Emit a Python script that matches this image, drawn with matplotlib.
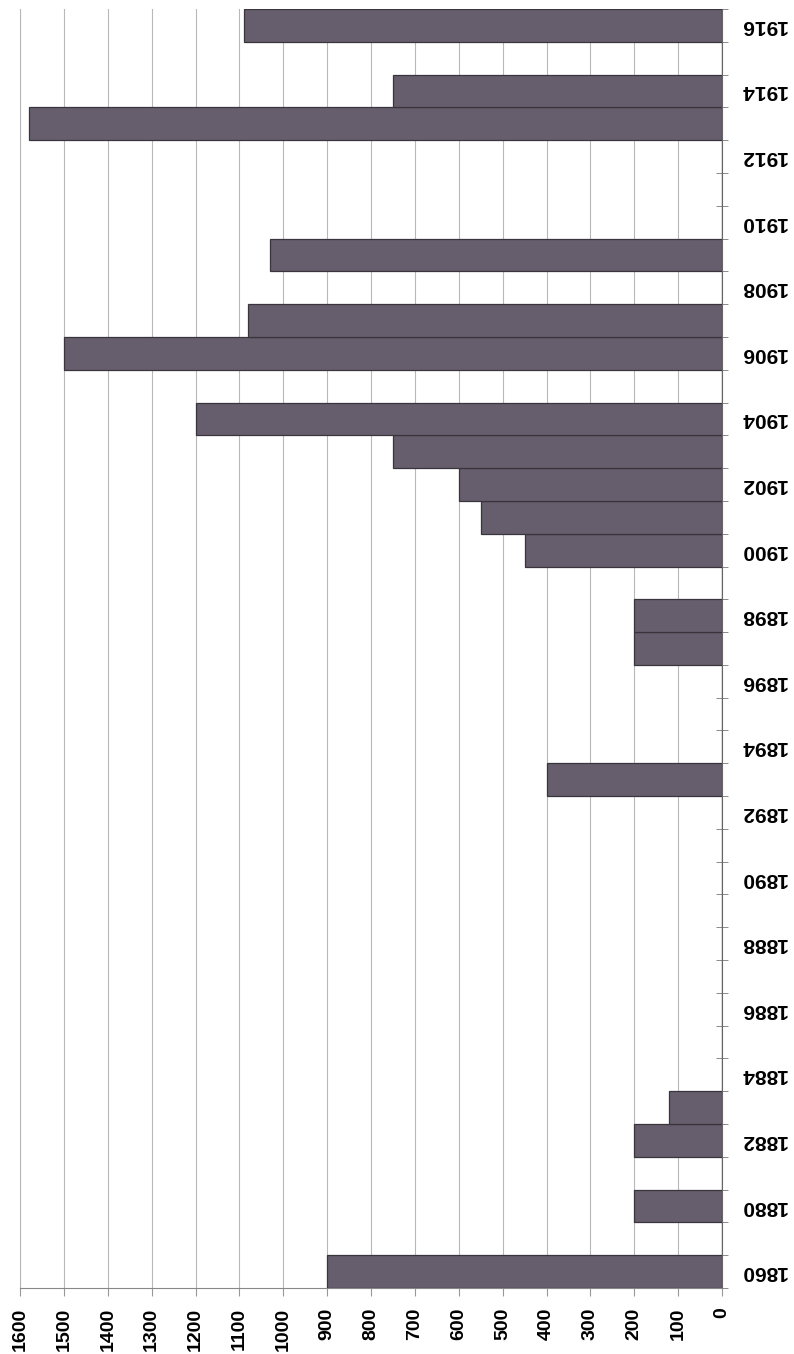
import matplotlib.pyplot as plt
import numpy as np

# categories (one bar per year, label on every second one)
years = ['1860', '1870'] + [str(y) for y in range(1880, 1917)]
values = [900, 0,                                    # 1860, (unlabelled)
          200, 0, 200, 120, 0, 0, 0, 0, 0, 0,        # 1880-1889
          0, 0, 0, 400, 0, 0, 0, 200, 200, 0,        # 1890-1899
          450, 550, 600, 750, 1200, 0, 1500, 1080, 0, 1030,  # 1900-1909
          0, 0, 0, 1580, 750, 0, 1090]               # 1910-1916
value_ticks = list(range(0, 1700, 100))

plt.rcParams['font.family'] = ['Liberation Sans', 'DejaVu Sans']

fig = plt.figure(figsize=(7.94, 13.54), dpi=100)
ax = fig.add_axes([20/794, 1 - 1288/1354, (722-20)/794, (1288-9)/1354])

pos = np.arange(len(years))
ax.barh(pos, values, height=1.0, color='#665e6d', edgecolor='#3a343d', linewidth=0.9, zorder=3)

ax.set_xlim(1600, 0)
ax.set_ylim(-0.5, len(years) - 0.5)

ax.set_xticks(value_ticks)
ax.set_xticklabels([str(v) for v in value_ticks], rotation=90, fontsize=14, fontweight='bold')
ax.grid(axis='x', color='#b8b8b8', linewidth=0.8, zorder=0)

ax.yaxis.tick_right()
ax.set_yticks(pos[::2])
ax.set_yticklabels(years[::2], rotation=180, fontsize=15, fontweight='bold', va='center')
ax.set_yticks(np.arange(-0.5, len(years), 1), minor=True)
ax.tick_params(axis='y', which='major', length=0, pad=13)
ax.tick_params(axis='y', which='minor', length=8, direction='inout', color='#777777')
ax.tick_params(axis='x', length=6, color='#999999', pad=8)

ax.spines['top'].set_visible(False)
ax.spines['left'].set_color('#b8b8b8')
ax.spines['right'].set_color('#666666')
ax.spines['bottom'].set_color('#888888')

fig.savefig('out.png', dpi=100)
